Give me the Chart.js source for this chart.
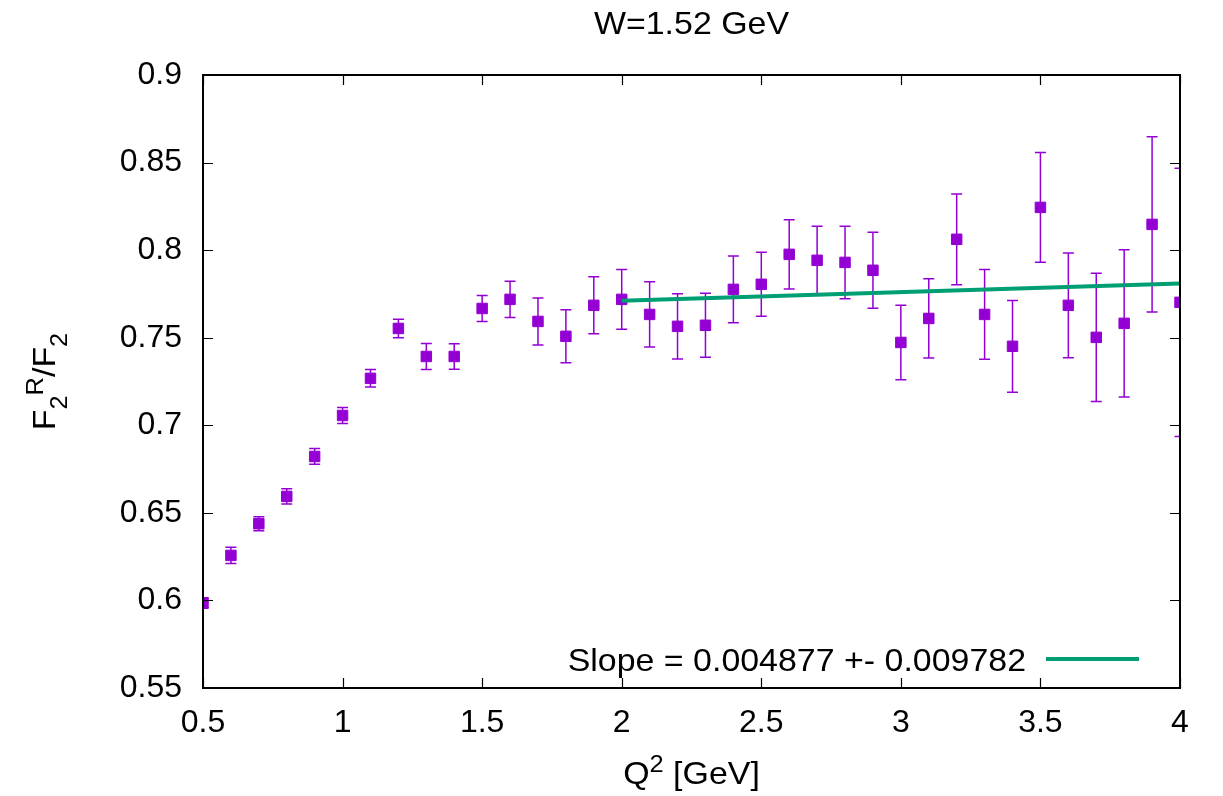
<!DOCTYPE html>
<html><head><meta charset="utf-8">
<script src="https://cdn.jsdelivr.net/npm/chart.js@4/dist/chart.umd.min.js"></script>
<style>html,body{margin:0;padding:0;background:#fff}canvas{display:block}</style>
</head><body>
<canvas id="c" width="1223" height="796"></canvas>
<script>
const q2 = [0.5,0.6,0.7,0.8,0.9,1.0,1.1,1.2,1.3,1.4,1.5,1.6,1.7,1.8,1.9,2.0,2.1,2.2,2.3,2.4,2.5,2.6,2.7,2.8,2.9,3.0,3.1,3.2,3.3,3.4,3.5,3.6,3.7,3.8,3.9,4.0];
const ratio = [0.5986,0.6257,0.6438,0.6594,0.6822,0.7056,0.7268,0.7553,0.7393,0.7393,0.7667,0.7719,0.7593,0.7508,0.7685,0.7719,0.7633,0.7565,0.7571,0.7776,0.7805,0.7976,0.7942,0.7930,0.7885,0.7473,0.7610,0.8062,0.7633,0.7451,0.8244,0.7685,0.7502,0.7582,0.8147,0.7702];
const ratioErr = [0.0030,0.0046,0.0040,0.0044,0.0045,0.0046,0.0050,0.0053,0.0074,0.0073,0.0074,0.0103,0.0134,0.0151,0.0163,0.0170,0.0186,0.0186,0.0183,0.0190,0.0183,0.0198,0.0195,0.0207,0.0217,0.0213,0.0226,0.0259,0.0256,0.0262,0.0313,0.0299,0.0366,0.0420,0.0500,0.0766];
const fitQ2 = [2.0, 4.0];
const fitRatio = [0.7711, 0.7809];
const xTickLabels = ['0.5','1','1.5','2','2.5','3','3.5','4'];
const yTickLabels = ['0.55','0.6','0.65','0.7','0.75','0.8','0.85','0.9'];
const titleText = 'W=1.52 GeV';
const legendText = 'Slope = 0.004877 +- 0.009782';

const FONT = 'Liberation Sans';
const STRETCH = 1.06;
const PURPLE = '#9400d3';
const GREEN = '#009e73';

const errorBars = {
  id: 'errorBars',
  beforeDatasetsDraw(chart) {
    const {ctx, chartArea: a, scales: {x, y}} = chart;
    ctx.save();
    ctx.beginPath();
    ctx.rect(a.left, a.top, a.right - a.left, a.bottom - a.top);
    ctx.clip();
    ctx.strokeStyle = PURPLE;
    ctx.lineWidth = 1.5;
    for (let i = 0; i < q2.length; i++) {
      const px = x.getPixelForValue(q2[i]);
      const pt = y.getPixelForValue(ratio[i] + ratioErr[i]);
      const pb = y.getPixelForValue(ratio[i] - ratioErr[i]);
      ctx.beginPath();
      ctx.moveTo(px, pt); ctx.lineTo(px, pb);
      ctx.moveTo(px - 5.5, pt); ctx.lineTo(px + 5.5, pt);
      ctx.moveTo(px - 5.5, pb); ctx.lineTo(px + 5.5, pb);
      ctx.stroke();
    }
    ctx.restore();
  }
};

function drawRich(ctx, parts, cx, baseY) {
  let total = 0;
  parts.forEach(p => { ctx.font = p.size + 'px "' + FONT + '"'; p.w = ctx.measureText(p.t).width; total += p.w; });
  ctx.save();
  ctx.translate(cx, baseY);
  ctx.scale(STRETCH, 1);
  let xx = -total / 2;
  ctx.textAlign = 'left';
  ctx.textBaseline = 'alphabetic';
  parts.forEach(p => { ctx.font = p.size + 'px "' + FONT + '"'; ctx.fillText(p.t, xx, p.dy || 0); xx += p.w; });
  ctx.restore();
}

const frame = {
  id: 'frame',
  afterDraw(chart) {
    const {ctx, chartArea: a, scales: {x, y}} = chart;
    ctx.save();
    ctx.strokeStyle = '#000';
    ctx.lineWidth = 1.2;
    ctx.beginPath();
    x.ticks.forEach(t => {
      const px = Math.round(x.getPixelForValue(t.value)) + 0.5;
      ctx.moveTo(px, a.bottom); ctx.lineTo(px, a.bottom - 10);
      ctx.moveTo(px, a.top); ctx.lineTo(px, a.top + 10);
    });
    y.ticks.forEach(t => {
      const py = Math.round(y.getPixelForValue(t.value)) + 0.5;
      ctx.moveTo(a.left, py); ctx.lineTo(a.left + 10, py);
      ctx.moveTo(a.right, py); ctx.lineTo(a.right - 10, py);
    });
    ctx.stroke();
    ctx.lineWidth = 2;
    ctx.strokeRect(a.left, a.top, a.right - a.left, a.bottom - a.top);

    ctx.fillStyle = '#000';
    // title
    drawRich(ctx, [{t: titleText, size: 32}], (a.left + a.right) / 2, 34);

    // legend
    ctx.save();
    ctx.translate(1026, 671);
    ctx.scale(STRETCH, 1);
    ctx.font = '32px "' + FONT + '"';
    ctx.textAlign = 'right';
    ctx.textBaseline = 'alphabetic';
    ctx.fillText(legendText, 0, 0);
    ctx.restore();
    ctx.strokeStyle = GREEN;
    ctx.lineWidth = 4;
    ctx.beginPath();
    ctx.moveTo(1046, 659); ctx.lineTo(1139, 659);
    ctx.stroke();

    // x title
    ctx.fillStyle = '#000';
    drawRich(ctx, [
      {t: 'Q', size: 32},
      {t: '2', size: 24, dy: -12},
      {t: ' [GeV]', size: 32}
    ], (a.left + a.right) / 2, 784);

    // y title
    ctx.save();
    ctx.translate(55, (a.top + a.bottom) / 2);
    ctx.rotate(-Math.PI / 2);
    drawRich(ctx, [
      {t: 'F', size: 32},
      {t: '2', size: 24, dy: 12},
      {t: 'R', size: 24, dy: -12},
      {t: '/F', size: 32},
      {t: '2', size: 24, dy: 12}
    ], 0, 0);
    ctx.restore();
    ctx.restore();
  }
};

const xVals = xTickLabels.map(parseFloat);
const yVals = yTickLabels.map(parseFloat);

new Chart(document.getElementById('c'), {
  type: 'scatter',
  data: {
    datasets: [
      {
        type: 'line',
        data: fitQ2.map((v, i) => ({x: v, y: fitRatio[i]})),
        borderColor: GREEN,
        borderWidth: 4,
        pointRadius: 0,
        fill: false,
        clip: 0
      },
      {
        data: q2.map((v, i) => ({x: v, y: ratio[i]})),
        pointStyle: 'rect',
        pointRadius: 7.4,
        pointBorderWidth: 1,
        backgroundColor: PURPLE,
        borderColor: PURPLE,
        clip: 0
      }
    ]
  },
  options: {
    responsive: false,
    animation: false,
    layout: {padding: {left: 0, right: 43, top: 75, bottom: 0}},
    plugins: {legend: {display: false}, tooltip: {enabled: false}, title: {display: false}},
    scales: {
      x: {
        type: 'linear', min: 0.5, max: 4,
        border: {display: false},
        grid: {display: false, drawTicks: false},
        afterBuildTicks: s => { s.ticks = xVals.map(v => ({value: v})); },
        ticks: {
          font: {family: FONT, size: 32}, color: '#000', padding: 16,
          maxRotation: 0, autoSkip: false,
          callback: (v, i) => xTickLabels[i]
        },
        afterFit: s => { s.height = 108; }
      },
      y: {
        type: 'linear', min: 0.55, max: 0.9,
        border: {display: false},
        grid: {display: false, drawTicks: false},
        afterBuildTicks: s => { s.ticks = yVals.map(v => ({value: v})); },
        ticks: {
          font: {family: FONT, size: 32}, color: '#000', padding: 21,
          autoSkip: false,
          callback: (v, i) => yTickLabels[i]
        },
        afterFit: s => { s.width = 203; }
      }
    }
  },
  plugins: [errorBars, frame]
});
</script>
</body></html>
